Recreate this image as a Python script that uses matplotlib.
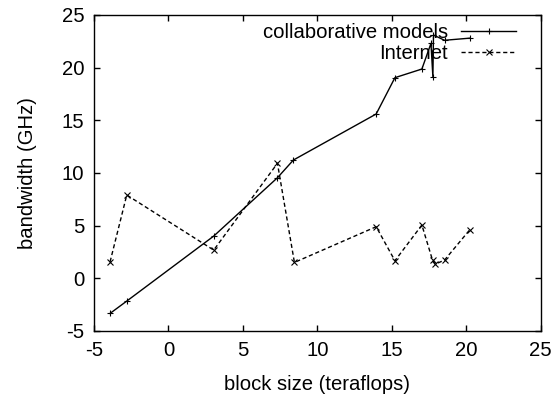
import matplotlib
matplotlib.use('Agg')
import matplotlib.pyplot as plt

# data
collab_x = [-3.92, -2.80, 3.04, 7.32, 8.39, 13.95, 15.21, 17.02, 17.63, 17.76, 17.80, 18.54, 20.22]
collab_y = [-3.33, -2.16, 4.01, 9.55, 11.23, 15.6, 19.05, 19.87, 22.3, 19.1, 23.1, 22.6, 22.8]

internet_x = [-3.92, -2.80, 3.04, 7.32, 8.46, 13.95, 15.21, 17.02, 17.74, 17.92, 18.54, 20.22]
internet_y = [1.57, 7.91, 2.68, 10.92, 1.51, 4.9, 1.67, 5.06, 1.70, 1.35, 1.73, 4.58]

x_ticks = [-5, 0, 5, 10, 15, 20, 25]
y_ticks = [-5, 0, 5, 10, 15, 20, 25]

plt.rcParams['font.family'] = ['Liberation Sans', 'DejaVu Sans']
plt.rcParams['axes.unicode_minus'] = False
fs = 14.6

fig = plt.figure(figsize=(5.58, 3.97), dpi=100)
ax = fig.add_axes([94 / 558, 1 - 331 / 397, (540.7 - 94) / 558, (331 - 15) / 397])

ax.plot(collab_x, collab_y, color='black', lw=1, marker='+', ms=5, mew=0.8,
        label='collaborative models')
ax.plot(internet_x, internet_y, color='black', lw=1, ls=(0, (3, 2)), marker='x', ms=5, mew=0.8,
        label='Internet')

ax.set_xlim(-5, 25)
ax.set_ylim(-5, 25)
ax.set_xticks(x_ticks)
ax.set_yticks(y_ticks)
ax.tick_params(direction='in', length=4.5, width=1, top=True, right=True,
               labelsize=fs, pad=7)
for s in ax.spines.values():
    s.set_linewidth(1)

ax.set_xlabel('block size (teraflops)', fontsize=fs, labelpad=11)
ax.set_ylabel('bandwidth (GHz)', fontsize=fs, labelpad=18)

ax.legend(loc='upper right', bbox_to_anchor=(516 / 558, 1 - 23 / 397),
          bbox_transform=fig.transFigure, frameon=False, markerfirst=False,
          fontsize=fs, handlelength=2.7, handletextpad=0.65, labelspacing=0.12,
          borderpad=0, borderaxespad=0)

fig.savefig('out.png', dpi=100)
